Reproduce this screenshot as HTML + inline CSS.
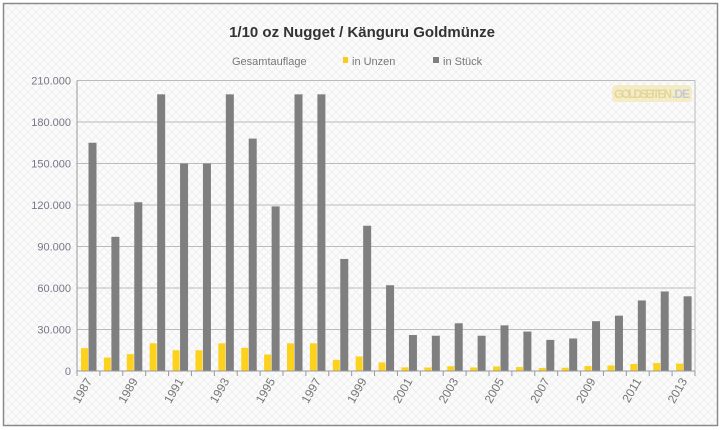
<!DOCTYPE html>
<html><head><meta charset="utf-8"><style>
html,body{margin:0;padding:0;background:#fff;}
svg{display:block;font-family:"Liberation Sans",sans-serif;}
</style></head><body>
<svg width="724" height="430" viewBox="0 0 724 430">
<defs>
<pattern id="p" width="8" height="8" patternUnits="userSpaceOnUse">
<rect width="8" height="8" fill="#fbfbfb"/>
<path d="M0 0L8 8M8 0L0 8" stroke="#f0f0f0" stroke-width="1"/>
</pattern>
</defs>
<rect x="3.5" y="3.5" width="714" height="422" fill="url(#p)" stroke="#8a8a8a" stroke-width="1.5"/>
<text x="362" y="37" text-anchor="middle" font-size="15" font-weight="bold" fill="#333">1/10 oz Nugget / Känguru Goldmünze</text>
<text x="232" y="65" font-size="11" fill="#777">Gesamtauflage</text>
<rect x="343" y="57" width="5" height="6" fill="#f9cc1a"/>
<text x="352" y="65" font-size="11" fill="#777">in Unzen</text>
<rect x="433" y="57" width="6" height="6" fill="#808080"/>
<text x="443" y="65" font-size="11" fill="#777">in Stück</text>
<g id="grid"></g>
<g id="bars"></g>
<g id="ax"></g>
<g opacity="0.6">
<rect x="612" y="85" width="80" height="17" rx="4" fill="#f3e6a6"/>
<text x="614" y="98" font-size="12" font-weight="bold" fill="#d8c060" textLength="58">GOLDSEITEN</text>
<text x="672" y="98" font-size="12" font-weight="bold" fill="#aab" textLength="18">.DE</text>
</g>
</svg>
<script>
var s=[165000,97000,122000,200000,150000,150000,200000,168000,119000,200000,200000,81000,105000,62000,26000,25500,34500,25500,33000,28500,22500,23500,36000,40000,51000,57500,54000];
var L=77,R=695,B=371,T=80.5,cw=(R-L)/27,ns="http://www.w3.org/2000/svg";
function el(t,a,p,tx){var e=document.createElementNS(ns,t);for(var k in a)e.setAttribute(k,a[k]);if(tx)e.textContent=tx;document.getElementById(p).appendChild(e);}
function y(v){return B-(v/210000)*(B-T);}
for(var i=0;i<=7;i++){var yy=y(i*30000);
el('line',{x1:L,x2:R,y1:yy,y2:yy,stroke:'#bbb','stroke-width':1},'grid');
el('text',{x:L-6,y:yy+4,'text-anchor':'end','font-size':11,fill:'#778'},'grid',i==0?'0':(i*30)+'.000');}
el('line',{x1:R,x2:R,y1:T,y2:B,stroke:'#bbb'},'grid');
el('line',{x1:L,x2:L,y1:T,y2:B+1,stroke:'#999'},'ax');
for(var i=0;i<27;i++){var x0=L+i*cw;
var u=s[i]/10;
el('rect',{x:x0+4,y:y(u),width:7,height:B-y(u),fill:'#fdd21c'},'bars');
el('rect',{x:x0+11.5,y:y(s[i]),width:8,height:B-y(s[i]),fill:'#7f7f7f'},'bars');
el('line',{x1:x0,x2:x0,y1:B,y2:B+5,stroke:'#999'},'ax');
if(i%2==0){var cx=x0+cw/2+4,cy=B+10;
el('text',{x:cx,y:cy,'text-anchor':'end','font-size':12,fill:'#777',transform:'rotate(-60 '+cx+' '+cy+')'},'ax',String(1987+i));}}
el('line',{x1:R,x2:R,y1:B,y2:B+5,stroke:'#999'},'ax');
el('line',{x1:L,x2:R,y1:B,y2:B,stroke:'#999'},'ax');
</script>
</body></html>
